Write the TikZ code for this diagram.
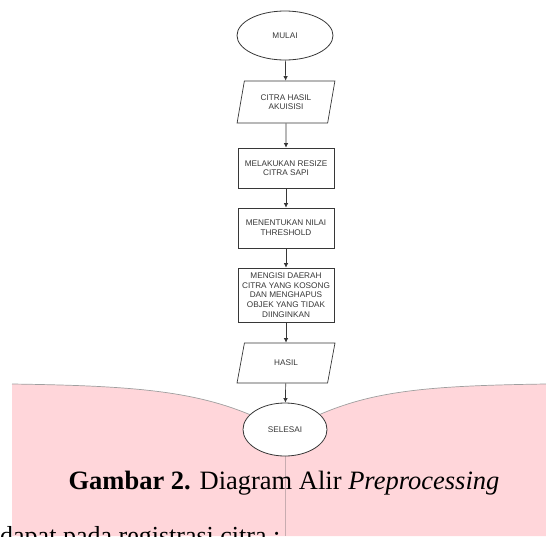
\documentclass[tikz,border=0pt]{standalone}
\usepackage{fontspec}
\setmainfont{Liberation Serif}
\newfontfamily\chartfont{Liberation Sans}
\usepackage{tikz}
\usetikzlibrary{arrows.meta,positioning,shapes.geometric}
\definecolor{pagepink}{RGB}{255,214,218}
\definecolor{pageline}{RGB}{200,172,176}
\definecolor{chartgray}{RGB}{55,55,55}
\tikzset{
  terminal/.style={ellipse,draw=chartgray,fill=white,line width=0.8pt,inner sep=0pt},
  io/.style={trapezium,trapezium left angle=74,trapezium right angle=106,trapezium stretches=true,
    draw=chartgray,fill=white,line width=0.7pt,inner sep=0pt,minimum width=98pt},
  process/.style={rectangle,draw=chartgray,fill=white,line width=0.7pt,inner sep=0pt,minimum width=96pt},
  flowarr/.style={-{Latex[length=4.5pt,width=4.5pt]},line width=0.7pt,draw=chartgray},
  chartlabel/.style={font=\chartfont\fontsize{8.2}{9.6}\selectfont,text=chartgray,align=center}
}

\begin{document}
\begin{tikzpicture}[
  x=1pt,y=-1pt,
  pageedge/.style={draw=gray!75,line width=0.7pt},
  fold/.style={draw=pageline,line width=0.6pt},
  caption/.style={font=\fontsize{26.5}{30}\selectfont,anchor=base},
  bodytext/.style={font=\fontsize{26}{30}\selectfont,anchor=base west,inner sep=0pt}
]
\useasboundingbox (0,0) rectangle (546,536);

\coordinate (pl) at (12,384);
\coordinate (pm) at (285,432);
\coordinate (pr) at (546,384);

\fill[pagepink] (12,536) -- (pl) .. controls (150,386) and (215,392) .. (pm)
  .. controls (355,392) and (410,386) .. (pr) -- (546,536) -- cycle;
\draw[pageedge] (pl) .. controls (150,386) and (215,392) .. (pm)
  .. controls (355,392) and (410,386) .. (pr);
\draw[fold] (pm) -- (285,536);

\node[terminal,chartlabel,minimum width=96pt,minimum height=49pt] (mulai) at (285,35.5) {MULAI};
\node[io,chartlabel,minimum height=42pt] (input) at (286,102) {CITRA HASIL\\AKUISISI};
\node[process,chartlabel,minimum height=40pt] (resize) at (286,168) {MELAKUKAN RESIZE\\CITRA SAPI};
\node[process,chartlabel,minimum height=40pt] (thresh) at (286,228) {MENENTUKAN NILAI\\THRESHOLD};
\node[process,chartlabel,minimum height=54pt] (isi) at (286,295) {MENGISI DAERAH\\CITRA YANG KOSONG\\DAN MENGHAPUS\\OBJEK YANG TIDAK\\DIINGINKAN};
\node[io,chartlabel,minimum height=40pt,trapezium left angle=70,trapezium right angle=110] (hasil) at (286,363) {HASIL};
\node[terminal,chartlabel,minimum width=84pt,minimum height=53pt] (selesai) at (285,429.5) {SELESAI};

\draw[flowarr] (mulai) -- (input);
\draw[flowarr] (input) -- (resize);
\draw[flowarr] (resize) -- (thresh);
\draw[flowarr] (thresh) -- (isi);
\draw[flowarr] (isi) -- (hasil);
\draw[flowarr] (hasil) -- (selesai);

\node[caption] (cap) at (284,489) {\textbf{Gambar 2.} Diagram Alir \textit{Preprocessing}};
\node[bodytext] (body) at (0,544) {dapat pada registrasi citra :};

\end{tikzpicture}
\end{document}
